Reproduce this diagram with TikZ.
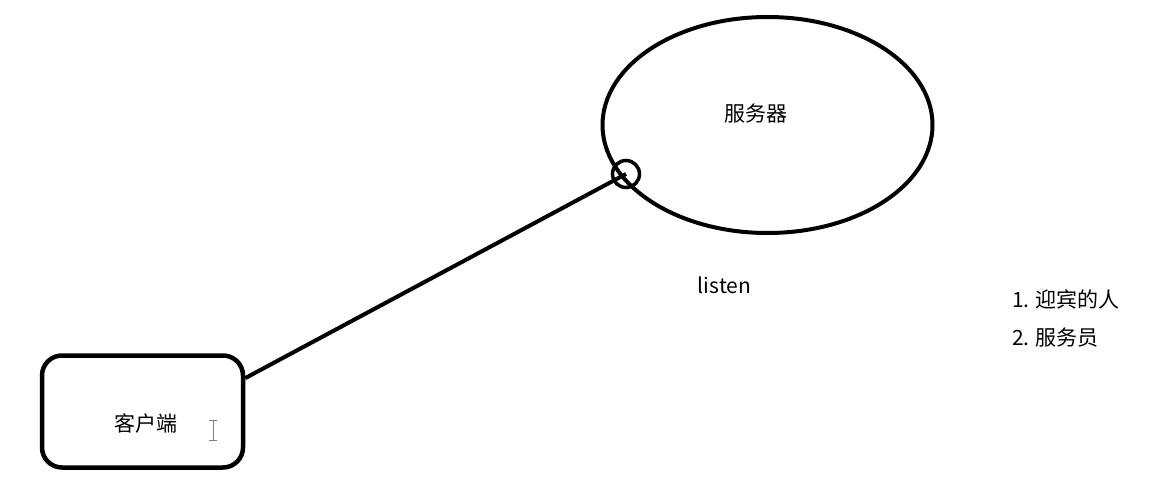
\documentclass[tikz,border=0pt]{standalone}
\usepackage{fontspec}
\setmainfont{Noto Sans CJK SC}
\usetikzlibrary{positioning,shapes.geometric}

\begin{document}
\begin{tikzpicture}[
    x=1pt, y=-1pt,
    lbl/.style={inner sep=0pt, font=\fontsize{21}{24}\selectfont},
    server/.style={ellipse, draw, line width=4pt, minimum width=330pt, minimum height=216pt, inner sep=0pt},
    port/.style={circle, draw, line width=3.5pt, minimum width=23pt, minimum height=27pt, inner sep=0pt},
    client/.style={rectangle, draw, line width=4.5pt, rounded corners=20pt, minimum width=201pt, minimum height=112pt, inner sep=0pt},
    wire/.style={draw, line width=4pt}
]
\useasboundingbox (0,0) rectangle (1173,495);

% Define shapes
\node[server] (srv) at (767.5,125) {};
\node[port] (port) at (626,174) {};
\node[client] (cli) at (142.5,411.5) {};

% Labels
\node[lbl] (srvtext) at (755.5,114) {服务器};
\node[lbl] (clitext) at (146,423.5) {客户端};
\node[lbl] (listen) at (724.5,285) {listen};
\node[lbl, anchor=west] (item1) at (1012,299) {1. 迎宾的人};
\node[lbl, anchor=west] (item2) at (1012,338) {2. 服务员};

% Draw connection
\draw[wire] (cli.18) -- (port.center);

% Text cursor
\draw[gray, line width=1pt] (209,420) -- (217,420) (213,420) -- (213,440) (209,440) -- (217,440);

\end{tikzpicture}
\end{document}
